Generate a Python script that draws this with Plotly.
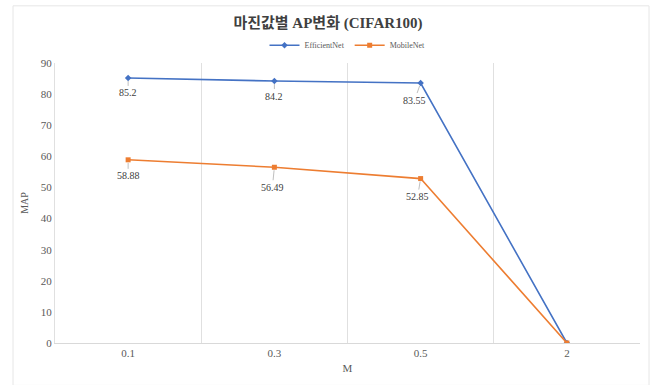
import plotly.graph_objects as go

categories = ["0.1", "0.3", "0.5", "2"]
efficientnet = [85.2, 84.2, 83.55, 0]
mobilenet = [58.88, 56.49, 52.85, 0]
eff_labels = ["85.2", "84.2", "83.55", None]
mob_labels = ["58.88", "56.49", "52.85", None]
y_ticks = [0, 10, 20, 30, 40, 50, 60, 70, 80, 90]

serif = "Liberation Serif"
W, H = 656, 385
ml, mr, mt, mb = 55, 16, 63, 38
pw, ph = W - ml - mr, H - mt - mb

fig = go.Figure()
fig.add_trace(go.Scatter(x=categories, y=efficientnet, mode="lines+markers", name="EfficientNet",
                         line=dict(color="#4472C4", width=1.6),
                         marker=dict(symbol="diamond", size=5, color="#4472C4")))
fig.add_trace(go.Scatter(x=categories, y=mobilenet, mode="lines+markers", name="MobileNet",
                         line=dict(color="#ED7D31", width=1.6),
                         marker=dict(symbol="square", size=5, color="#ED7D31")))

offsets_e = [(0, 15), (0, 15), (-6, 17)]
offsets_m = [(0, 16), (-2, 20), (-3, 18)]
for series, labels, offs in ((efficientnet, eff_labels, offsets_e), (mobilenet, mob_labels, offsets_m)):
    for i, (val, lab) in enumerate(zip(series, labels)):
        if lab is None:
            continue
        fig.add_annotation(x=i, y=val, text=lab, showarrow=True, arrowhead=0, arrowwidth=1,
                           arrowcolor="#bfbfbf", ax=offs[i][0], ay=offs[i][1], standoff=3,
                           font=dict(family=serif, size=10, color="#404040"))

# outer chart frame
fig.add_shape(type="rect", xref="paper", yref="paper",
              x0=(13 - ml) / pw, x1=(649 - ml) / pw,
              y0=(H - mb - 390) / ph, y1=(H - mb - 5) / ph,
              line=dict(color="#e6e6e6", width=1), layer="below")

fig.update_layout(
    width=W, height=H,
    margin=dict(l=ml, r=mr, t=mt, b=mb),
    paper_bgcolor="white", plot_bgcolor="white",
    title=dict(text="<b>마진값별 AP변화 (CIFAR100)</b>", x=0.5, xanchor="center", y=1 - 23 / H, yanchor="middle",
               font=dict(family="Liberation Serif, Noto Sans CJK KR", size=15, color="#404040")),
    legend=dict(orientation="h", x=0.5, xanchor="center", y=1 + 18 / ph, yanchor="middle",
                font=dict(family=serif, size=8, color="#595959"), itemwidth=30, bgcolor="rgba(0,0,0,0)"),
    showlegend=True,
)
fig.update_xaxes(type="category", range=[-0.5, 3.5], tickson="boundaries", showgrid=True,
                 gridcolor="#e0e0e0", gridwidth=1, showline=True, linecolor="#d9d9d9", ticks="",
                 zeroline=False, tickfont=dict(family=serif, size=11, color="#595959"),
                 title=dict(text="M", font=dict(family=serif, size=11, color="#595959"), standoff=6))
fig.update_yaxes(range=[0, 90], tickvals=y_ticks, showgrid=False, zeroline=False, showline=True,
                 linecolor="#e0e0e0", ticks="", ticklen=0,
                 tickfont=dict(family=serif, size=11, color="#595959"),
                 title=dict(text="MAP", font=dict(family=serif, size=10, color="#595959"), standoff=10))

fig.write_html("out.html")
